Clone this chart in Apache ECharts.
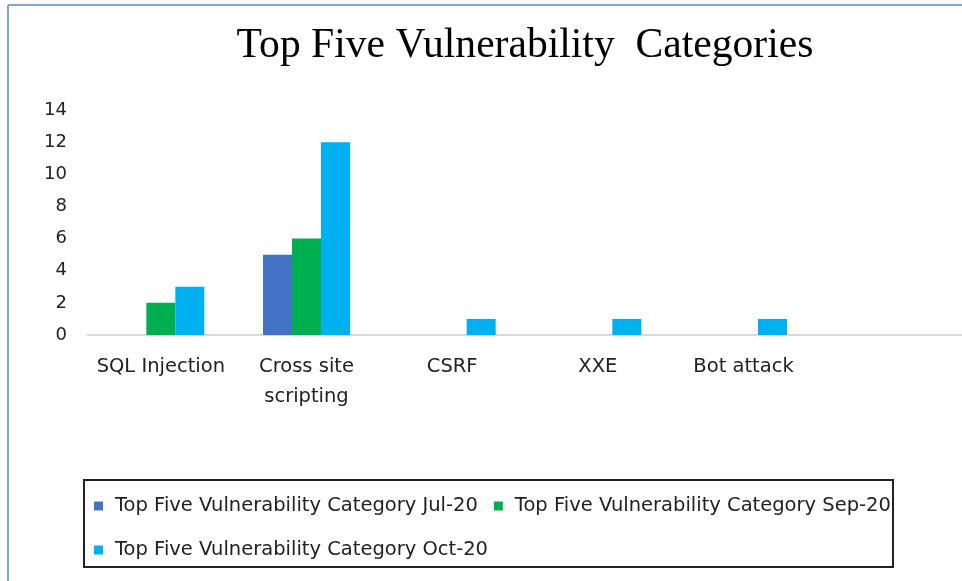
<!DOCTYPE html>
<html>
<head>
<meta charset="utf-8">
<script src="https://cdn.jsdelivr.net/npm/echarts@6/dist/echarts.min.js"></script>
<style>
  html, body { margin: 0; padding: 0; background: #fff; }
  #main { width: 962px; height: 581px; }
</style>
</head>
<body>
<div id="main"></div>
<script>
var categories = ['SQL Injection', 'Cross site\nscripting', 'CSRF', 'XXE', 'Bot attack', ''];
var seriesNames = [
  'Top Five Vulnerability Category Jul-20',
  'Top Five Vulnerability Category Sep-20',
  'Top Five Vulnerability Category Oct-20'
];
var jul20 = [0, 5, 0, 0, 0, null];
var sep20 = [2, 6, 0, 0, 0, null];
var oct20 = [3, 12, 1, 1, 1, null];
var colors = ['#4472C4', '#00B050', '#00B0F0'];

var chartDom = document.getElementById('main');
var myChart = echarts.init(chartDom);

var labelFont = 'DejaVu Sans';

var option = {
  animation: false,
  color: colors,
  title: {
    text: 'Top Five Vulnerability  Categories',
    left: 520,
    textAlign: 'center',
    top: 20,
    textStyle: {
      fontFamily: 'Liberation Serif',
      fontSize: 41.6,
      fontWeight: 'normal',
      color: '#000'
    }
  },
  graphic: [
    { type: 'line', shape: { x1: 8, y1: 5, x2: 8, y2: 581 }, style: { stroke: '#7ea7de', lineWidth: 2 } },
    { type: 'line', shape: { x1: 8, y1: 5, x2: 962, y2: 5 }, style: { stroke: '#7ea7de', lineWidth: 2 } },
    { type: 'rect', shape: { x: 84, y: 480, width: 809, height: 87 }, style: { fill: 'none', stroke: '#222', lineWidth: 2 } }
  ],
  legend: [
    {
      data: [seriesNames[0], seriesNames[1]],
      left: 89,
      top: 491,
      icon: 'rect',
      itemWidth: 9,
      itemHeight: 9,
      itemGap: 16,
      textStyle: { fontFamily: labelFont, fontSize: 19.5, color: '#222', padding: [0, 0, 0, 7] }
    },
    {
      data: [seriesNames[2]],
      left: 89,
      top: 535,
      icon: 'rect',
      itemWidth: 9,
      itemHeight: 9,
      textStyle: { fontFamily: labelFont, fontSize: 19.5, color: '#222', padding: [0, 0, 0, 7] }
    }
  ],
  grid: { left: 88, right: 0, top: 110, bottom: 246 },
  xAxis: {
    type: 'category',
    data: categories,
    axisLine: { lineStyle: { color: '#d9d9d9', width: 2 } },
    axisTick: { show: false },
    axisLabel: {
      margin: 17,
      fontFamily: labelFont,
      fontSize: 19.5,
      color: '#222',
      lineHeight: 30,
      interval: 0
    }
  },
  yAxis: {
    type: 'value',
    min: 0,
    max: 14,
    interval: 2,
    axisLine: { show: false },
    axisTick: { show: false },
    splitLine: { show: false },
    axisLabel: { margin: 21, fontFamily: labelFont, fontSize: 18, color: '#222' }
  },
  series: [
    { name: seriesNames[0], type: 'bar', data: jul20, barWidth: 29, barGap: '0%' },
    { name: seriesNames[1], type: 'bar', data: sep20, barWidth: 29, barGap: '0%' },
    { name: seriesNames[2], type: 'bar', data: oct20, barWidth: 29, barGap: '0%' }
  ]
};

myChart.setOption(option);
</script>
</body>
</html>
